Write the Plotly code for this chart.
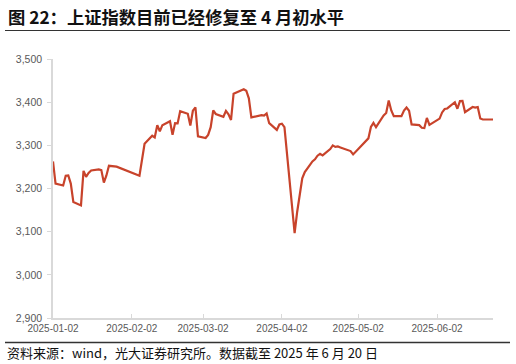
import plotly.graph_objects as go

dates = [
    "2025-01-02","2025-01-03","2025-01-06","2025-01-07","2025-01-08","2025-01-09","2025-01-10",
    "2025-01-13","2025-01-14","2025-01-15","2025-01-16","2025-01-17","2025-01-20","2025-01-21",
    "2025-01-22","2025-01-23","2025-01-24","2025-01-27","2025-02-05","2025-02-06","2025-02-07",
    "2025-02-10","2025-02-11","2025-02-12","2025-02-13","2025-02-14","2025-02-17","2025-02-18",
    "2025-02-19","2025-02-20","2025-02-21","2025-02-24","2025-02-25","2025-02-26","2025-02-27",
    "2025-02-28","2025-03-03","2025-03-04","2025-03-05","2025-03-06","2025-03-07","2025-03-10",
    "2025-03-11","2025-03-12","2025-03-13","2025-03-14","2025-03-17","2025-03-18","2025-03-19",
    "2025-03-20","2025-03-21","2025-03-24","2025-03-25","2025-03-26","2025-03-27","2025-03-28",
    "2025-03-31","2025-04-01","2025-04-02","2025-04-03","2025-04-07","2025-04-08","2025-04-09",
    "2025-04-10","2025-04-11","2025-04-14","2025-04-15","2025-04-16","2025-04-17","2025-04-18",
    "2025-04-21","2025-04-22","2025-04-23","2025-04-24","2025-04-25","2025-04-28","2025-04-29",
    "2025-04-30","2025-05-06","2025-05-07","2025-05-08","2025-05-09","2025-05-12","2025-05-13",
    "2025-05-14","2025-05-15","2025-05-16","2025-05-19","2025-05-20","2025-05-21","2025-05-22",
    "2025-05-23","2025-05-26","2025-05-27","2025-05-28","2025-05-29","2025-05-30","2025-06-03",
    "2025-06-04","2025-06-05","2025-06-06","2025-06-09","2025-06-10","2025-06-11","2025-06-12",
    "2025-06-13","2025-06-16","2025-06-17","2025-06-18","2025-06-19","2025-06-20","2025-06-23",
    "2025-06-24",
]
sse_close = [
    3262.6, 3211.4, 3206.9, 3229.6, 3230.2, 3211.4, 3168.5,
    3160.8, 3240.9, 3227.1, 3236.0, 3241.8, 3244.4, 3242.6,
    3213.6, 3230.2, 3252.6, 3250.6, 3229.5, 3270.7, 3303.7,
    3322.2, 3318.1, 3346.4, 3332.5, 3346.7, 3355.8, 3324.5,
    3351.5, 3350.8, 3379.1, 3373.0, 3346.0, 3380.2, 3388.1,
    3320.9, 3316.9, 3324.2, 3342.0, 3381.1, 3372.6, 3366.2,
    3379.8, 3371.9, 3358.7, 3419.6, 3426.4, 3429.8, 3426.4,
    3409.0, 3364.8, 3370.0, 3370.0, 3368.7, 3373.8, 3351.3,
    3335.8, 3348.4, 3350.1, 3342.0, 3096.6, 3145.6, 3186.8,
    3223.6, 3238.2, 3262.8, 3267.7, 3276.0, 3280.3, 3276.7,
    3291.4, 3299.8, 3296.4, 3297.3, 3295.1, 3288.4, 3286.7,
    3279.0, 3316.1, 3342.7, 3352.0, 3342.0, 3369.2, 3374.9,
    3404.0, 3380.8, 3367.5, 3367.6, 3380.5, 3387.6, 3380.2,
    3348.4, 3346.8, 3340.7, 3339.9, 3363.5, 3347.5, 3362.0,
    3376.2, 3384.1, 3385.4, 3399.8, 3384.8, 3402.3, 3402.7,
    3377.0, 3388.7, 3387.4, 3388.8, 3362.1, 3359.9, 3359.9,
    3359.9,
]
x_ticks = ["2025-01-02","2025-02-02","2025-03-02","2025-04-02","2025-05-02","2025-06-02"]
y_ticks = [2900, 3000, 3100, 3200, 3300, 3400, 3500]
title_text = "图 22：上证指数目前已经修复至 4 月初水平"
source_text = "资料来源：wind，光大证券研究所。数据截至 2025 年 6 月 20 日"

W, H = 516, 364
L, R, T, B = 53, 493, 59, 318

def px(xp):
    return (xp - L) / (R - L)

def py(yp):
    return (B - yp) / (B - T)

fig = go.Figure()
fig.add_trace(go.Scatter(
    x=dates, y=sse_close, mode="lines",
    line=dict(color="#c8432b", width=2.2),
    hoverinfo="skip", showlegend=False,
))

axis_font = dict(family="Liberation Sans, Arial, sans-serif", size=10.5, color="#595959")
fig.update_layout(
    width=W, height=H,
    margin=dict(l=L, r=W - R, t=T, b=H - B),
    paper_bgcolor="white", plot_bgcolor="white",
    xaxis=dict(
        type="date", range=[dates[0], dates[-1]],
        tickvals=x_ticks, ticktext=x_ticks,
        showgrid=False, zeroline=False,
        showline=True, linecolor="#d9d9d9", linewidth=1.5,
        ticks="inside", ticklen=4, tickcolor="#d9d9d9", tickwidth=1,
        tickfont=dict(family="Liberation Sans, Arial, sans-serif", size=10, color="#595959"),
    ),
    yaxis=dict(
        range=[2900, 3500], tickvals=y_ticks, tickformat=",",
        showgrid=False, zeroline=False,
        showline=True, linecolor="#d9d9d9", linewidth=1.5,
        ticks="outside", ticklen=4, tickcolor="#d9d9d9", tickwidth=1,
        ticklabelstandoff=3,
        tickfont=axis_font,
    ),
    font=dict(family="Noto Sans CJK SC"),
)

fig.add_annotation(
    text="<b>" + title_text + "</b>", xref="paper", yref="paper",
    x=px(6), y=py(16.5), xanchor="left", yanchor="middle", showarrow=False,
    font=dict(family="Noto Sans CJK SC", size=17.3, color="#111111"),
)
fig.add_annotation(
    text=source_text, xref="paper", yref="paper",
    x=px(5), y=py(352.5), xanchor="left", yanchor="middle", showarrow=False,
    font=dict(family="Noto Sans CJK SC", size=13, color="#111111"),
)
fig.add_shape(type="line", xref="paper", yref="paper",
              x0=px(5), x1=px(510), y0=py(30.5), y1=py(30.5),
              line=dict(color="#333333", width=1.2))
fig.add_shape(type="line", xref="paper", yref="paper",
              x0=px(5), x1=px(510), y0=py(342.5), y1=py(342.5),
              line=dict(color="#333333", width=1.6))

fig.write_html("out.html")
